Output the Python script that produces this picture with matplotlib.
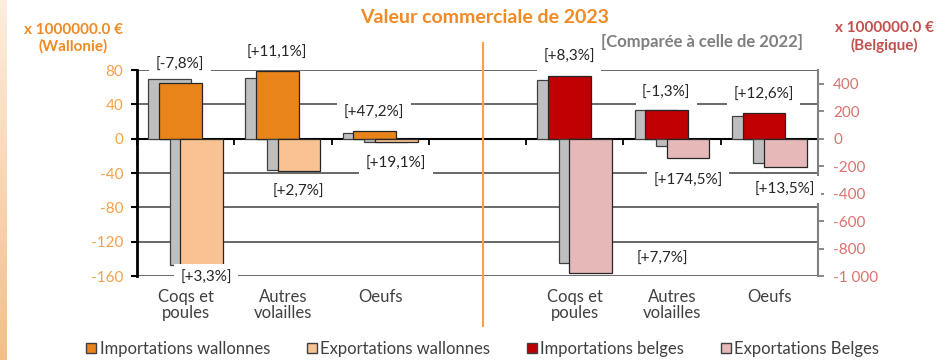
import numpy as np
import matplotlib
matplotlib.use("Agg")
import matplotlib.pyplot as plt
import matplotlib.transforms as mtransforms
from matplotlib.patches import Patch
from matplotlib.lines import Line2D
from matplotlib.ticker import FuncFormatter

plt.rcParams['font.family'] = ['Lato', 'DejaVu Sans']
plt.rcParams['axes.unicode_minus'] = False

# Valeurs 2023 (millions d'euros) et evolution par rapport a 2022 (%)
produits = ['Coqs et\npoules', 'Autres\nvolailles', 'Oeufs']

wal_imp_2023 = [64.5, 78.3, 8.9]
wal_exp_2023 = [-152.5, -37.5, -4.2]
be_imp_2023 = [459, 207, 187]
be_exp_2023 = [-977, -144, -203]

wal_imp_pct = [-7.8, 11.1, 47.2]
wal_exp_pct = [3.3, 2.7, 19.1]
be_imp_pct = [8.3, -1.3, 12.6]
be_exp_pct = [7.7, 174.5, 13.5]

wal_ticks = [-160, -120, -80, -40, 0, 40, 80]
be_ticks = [-1000, -800, -600, -400, -200, 0, 200, 400]

# couleurs
c_gris = '#BFBFBF'
c_wal_imp = '#E8841A'
c_wal_exp = '#F9C293'
c_be_imp = '#C00000'
c_be_exp = '#E6B9B8'
c_orange_txt = '#F08A24'
c_orange_tick = '#F5A04A'
c_rouge_txt = '#C0504D'
c_rouge_tick = '#D9736E'


def valeurs_2022(v2023, pct):
    return [v / (1 + p / 100.0) for v, p in zip(v2023, pct)]


def fmt_pct(p):
    s = f"{p:+.1f}".replace('.', ',')
    return f"[{s}%]"


fig = plt.figure(figsize=(9.52, 3.6), dpi=100)

# bande degradee a gauche
bande = fig.add_axes([0, 0, 7 / 952, 1])
grad = np.linspace(0, 1, 256).reshape(-1, 1)
cmap = matplotlib.colors.LinearSegmentedColormap.from_list('bande', ['#FDEEDF', '#F4BE88'])
bande.imshow(grad, aspect='auto', cmap=cmap, origin='upper')
bande.axis('off')

ax = fig.add_axes([0.1439, 0.2333, 0.7153, 0.5722])
ax2 = ax.twinx()

larg = 0.44
decal = [-0.165, -0.055, 0.055, 0.165]
x_wal = np.arange(3) + 0.5
x_be = np.arange(4, 7) + 0.5

# Wallonie (axe gauche)
ax.bar(x_wal + decal[0], valeurs_2022(wal_imp_2023, wal_imp_pct), larg, color=c_gris, edgecolor='#404040', lw=0.9, zorder=3)
ax.bar(x_wal + decal[1], wal_imp_2023, larg, color=c_wal_imp, edgecolor='#262626', lw=0.9, zorder=3)
ax.bar(x_wal + decal[2], valeurs_2022(wal_exp_2023, wal_exp_pct), larg, color=c_gris, edgecolor='#404040', lw=0.9, zorder=3)
ax.bar(x_wal + decal[3], wal_exp_2023, larg, color=c_wal_exp, edgecolor='#262626', lw=0.9, zorder=3)

# Belgique (axe droit)
ax2.bar(x_be + decal[0], valeurs_2022(be_imp_2023, be_imp_pct), larg, color=c_gris, edgecolor='#404040', lw=0.9, zorder=3)
ax2.bar(x_be + decal[1], be_imp_2023, larg, color=c_be_imp, edgecolor='#262626', lw=0.9, zorder=3)
ax2.bar(x_be + decal[2], valeurs_2022(be_exp_2023, be_exp_pct), larg, color=c_gris, edgecolor='#404040', lw=0.9, zorder=3)
ax2.bar(x_be + decal[3], be_exp_2023, larg, color=c_be_exp, edgecolor='#262626', lw=0.9, zorder=3)

# axes
ax.set_xlim(0, 7)
ax.set_ylim(-160, 80)
ax2.set_ylim(-1000, 500)
ax.set_yticks(wal_ticks)
ax2.set_yticks(be_ticks)
ax.yaxis.grid(True, color='#404040', lw=1.1)
ax.set_axisbelow(True)

ax.spines['top'].set_visible(False)
ax.spines['right'].set_visible(False)
ax.spines['left'].set_color('black')
ax.spines['left'].set_linewidth(2)
ax.spines['bottom'].set_position(('data', 0))
ax.spines['bottom'].set_color('black')
ax.spines['bottom'].set_linewidth(1.5)
for s in ['top', 'left', 'bottom']:
    ax2.spines[s].set_visible(False)
ax2.spines['right'].set_color('#808080')
ax2.spines['right'].set_linewidth(1.5)

ax.set_xticks(np.arange(8))
ax.tick_params(axis='x', direction='out', length=4, width=1.3, color='black', labelbottom=False)
ax.tick_params(axis='y', direction='out', length=4, width=1.5, color='black',
               labelcolor=c_orange_tick, labelsize=11, pad=6)
ax2.tick_params(axis='y', direction='out', length=4, width=1.3, color='#808080',
                labelcolor=c_rouge_tick, labelsize=11, pad=7)
ax2.yaxis.set_major_formatter(FuncFormatter(lambda v, p: f"{v:,.0f}".replace(',', ' ')))

# noms des produits sous l'axe
lab_tr = mtransforms.blended_transform_factory(ax.transData, ax.transAxes)
for xs in (x_wal, x_be):
    for x, nom in zip(xs, produits):
        ax.text(x, -0.062, nom, transform=lab_tr, ha='center', va='top', fontsize=12,
                color='#404040', linespacing=1.05)

# etiquettes d'evolution (coordonnees de l'axe gauche)
pos_wal_imp = [(0.442, 86), (1.439, 100), (2.436, 30)]
pos_wal_exp = [(0.709, -162), (1.66, -62.5), (2.662, -29)]
pos_be_imp = [(4.44, 95), (5.44, 53.4), (6.444, 50.7)]
pos_be_exp = [(5.40, -140), (5.663, -49.6), (6.66, -59.4)]

boite = dict(boxstyle='square,pad=0.42', fc='white', ec='none')
for pos, pcts in ((pos_wal_imp, wal_imp_pct), (pos_wal_exp, wal_exp_pct),
                  (pos_be_imp, be_imp_pct), (pos_be_exp, be_exp_pct)):
    for (x, y), p in zip(pos, pcts):
        ax2.text(x, y, fmt_pct(p), transform=ax.transData, ha='center', va='center',
                 fontsize=11, color='#262626', bbox=boite, zorder=6)

# titres
fig.text(0.509, 0.951, 'Valeur commerciale de 2023', ha='center', va='center',
         fontsize=14, fontweight='bold', color=c_orange_txt)
fig.text(0.843, 0.884, '[Comparée à celle de 2022]', ha='right', va='center',
         fontsize=12, fontweight='bold', color='#7F7F7F')
fig.text(0.077, 0.893, 'x 1000000.0 €\n(Wallonie)', ha='center', va='center',
         fontsize=11, fontweight='bold', color=c_orange_txt, linespacing=1.2)
fig.text(0.929, 0.897, 'x 1000000.0 €\n(Belgique)', ha='center', va='center',
         fontsize=11, fontweight='bold', color=c_rouge_txt, linespacing=1.2)

# separation Wallonie / Belgique
fig.add_artist(Line2D([482.5 / 952, 482.5 / 952], [1 - 43 / 360, 1 - 326 / 360],
                      color='#F7A150', lw=1.5, transform=fig.transFigure))

# legende
poignees = [Patch(fc=c_wal_imp, ec='#404040'), Patch(fc=c_wal_exp, ec='#404040'),
            Patch(fc=c_be_imp, ec='#404040'), Patch(fc=c_be_exp, ec='#404040')]
noms = ['Importations wallonnes', 'Exportations wallonnes', 'Importations belges', 'Exportations Belges']
fig.legend(poignees, noms, loc='center', bbox_to_anchor=(0.507, 0.031), ncol=4, frameon=False,
           fontsize=12, handlelength=0.6, handleheight=0.6, handletextpad=0.2,
           columnspacing=2.2, labelcolor='#404040')

fig.savefig('out.png', dpi=100)
